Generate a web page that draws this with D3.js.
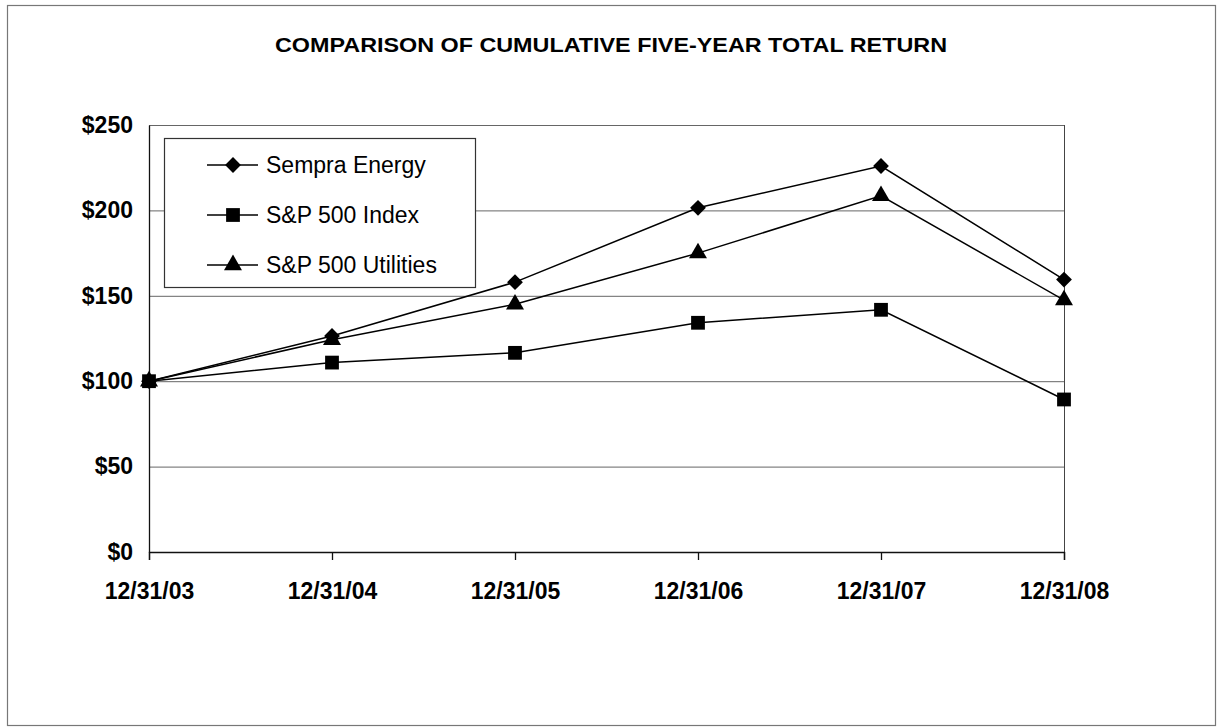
<!DOCTYPE html>
<html>
<head>
<meta charset="utf-8">
<script src="https://cdn.jsdelivr.net/npm/d3@7"></script>
<style>
  body { margin: 0; background: #fff; }
  text { font-family: "Liberation Sans", Arial, sans-serif; }
</style>
</head>
<body>
<div id="chart"></div>
<script>
// data
var dates = ["12/31/03", "12/31/04", "12/31/05", "12/31/06", "12/31/07", "12/31/08"];
var sempra = [100, 126.5, 158, 201.5, 226, 159.5];
var sp500 = [100, 110.9, 116.6, 134.2, 141.8, 89.3];
var utilities = [100, 124.3, 145, 175, 208.5, 147.5];
var yTicks = [0, 50, 100, 150, 200, 250];
var seriesNames = ["Sempra Energy", "S&P 500 Index", "S&P 500 Utilities"];
var title = "COMPARISON OF CUMULATIVE FIVE-YEAR TOTAL RETURN";

var W = 1222, H = 727;
var margin = { top: 125, right: 158, bottom: 175, left: 149 },
    width = W - margin.left - margin.right,
    height = H - margin.top - margin.bottom;

var svg = d3.select("#chart").append("svg")
    .attr("width", W)
    .attr("height", H);

// outer frame
svg.append("rect")
    .attr("x", 7.5).attr("y", 5.5)
    .attr("width", 1208).attr("height", 720)
    .attr("fill", "none")
    .attr("stroke", "#777")
    .attr("stroke-width", 1.2);

svg.append("text")
    .attr("x", 611).attr("y", 52)
    .attr("text-anchor", "middle")
    .attr("font-size", "20px")
    .attr("font-weight", "bold")
    .attr("textLength", 672)
    .attr("lengthAdjust", "spacingAndGlyphs")
    .text(title);

var g = svg.append("g")
    .attr("transform", "translate(" + margin.left + "," + margin.top + ")");

var x = d3.scalePoint().domain(dates).range([0, width]);
var y = d3.scaleLinear().domain([0, 250]).range([height, 0]);

// gridlines
g.selectAll(".grid")
  .data(yTicks.filter(function(d) { return d > 0; }))
  .enter().append("line")
    .attr("x1", 0).attr("x2", width)
    .attr("y1", function(d) { return y(d) + 0.5; })
    .attr("y2", function(d) { return y(d) + 0.5; })
    .attr("stroke", "#666")
    .attr("stroke-width", 1);

// right border
g.append("line")
    .attr("x1", width + 0.5).attr("x2", width + 0.5)
    .attr("y1", 0).attr("y2", height)
    .attr("stroke", "#444");

// y axis
var yAxis = g.append("g")
    .call(d3.axisLeft(y).tickValues(yTicks).tickSize(0).tickPadding(16)
      .tickFormat(function(d) { return "$" + d; }));
yAxis.select(".domain").attr("stroke", "#111").attr("stroke-width", 1.3);
yAxis.selectAll("text")
    .attr("font-size", "23px")
    .attr("font-weight", "bold")
    .attr("fill", "#000");

// x axis
var xAxis = g.append("g")
    .attr("transform", "translate(0," + height + ")")
    .call(d3.axisBottom(x).tickSize(8).tickPadding(23));
xAxis.select(".domain").attr("stroke", "#111").attr("stroke-width", 1.3);
xAxis.selectAll("line").attr("stroke", "#111").attr("stroke-width", 1.3);
xAxis.selectAll("text")
    .attr("font-size", "23px")
    .attr("font-weight", "bold")
    .attr("fill", "#000");

// diamond = square turned 45 degrees
var series = [
  { name: seriesNames[0], values: sempra, symbol: d3.symbolSquare, size: 125, rot: 45 },
  { name: seriesNames[2], values: utilities, symbol: d3.symbolTriangle, size: 140, rot: 0 },
  { name: seriesNames[1], values: sp500, symbol: d3.symbolSquare, size: 190, rot: 0 }
];

var line = d3.line()
    .x(function(d, i) { return x(dates[i]); })
    .y(function(d) { return y(d); });

series.forEach(function(s) {
  g.append("path")
    .datum(s.values)
    .attr("d", line)
    .attr("fill", "none")
    .attr("stroke", "#000")
    .attr("stroke-width", 1.5);
  g.selectAll(null)
    .data(s.values)
    .enter().append("path")
      .attr("transform", function(d, i) {
        return "translate(" + x(dates[i]) + "," + y(d) + ") rotate(" + s.rot + ")";
      })
      .attr("d", d3.symbol().type(s.symbol).size(s.size))
      .attr("fill", "#000");
});

// legend
var legend = svg.append("g").attr("transform", "translate(164,138)");
legend.append("rect")
    .attr("x", 0.5).attr("y", 0.5)
    .attr("width", 311).attr("height", 149)
    .attr("fill", "#fff")
    .attr("stroke", "#333")
    .attr("stroke-width", 1.2);

var legendItems = [series[0], series[2], series[1]];
legendItems.forEach(function(s, i) {
  var ly = 27 + i * 50;
  legend.append("line")
    .attr("x1", 43).attr("x2", 94)
    .attr("y1", ly).attr("y2", ly)
    .attr("stroke", "#000").attr("stroke-width", 1.5);
  legend.append("path")
    .attr("transform", "translate(69," + ly + ") rotate(" + s.rot + ")")
    .attr("d", d3.symbol().type(s.symbol).size(s.size))
    .attr("fill", "#000");
  legend.append("text")
    .attr("x", 102).attr("y", ly + 8)
    .attr("font-size", "23px")
    .attr("fill", "#000")
    .text(s.name);
});
</script>
</body>
</html>
